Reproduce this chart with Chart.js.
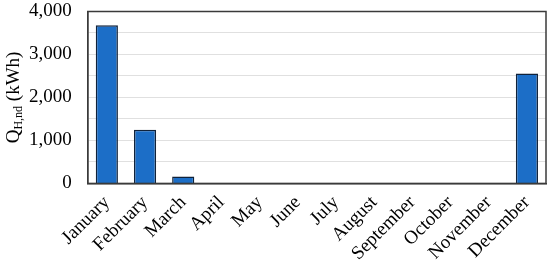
<!DOCTYPE html>
<html>
<head>
<meta charset="utf-8">
<script src="https://cdn.jsdelivr.net/npm/chart.js@4/dist/chart.umd.min.js"></script>
<style>
  html, body { margin: 0; padding: 0; background: #fff; }
  #wrap { width: 550px; height: 267px; }
</style>
</head>
<body>
<div id="wrap"><canvas id="chart"></canvas></div>
<script>
let months = ['January', 'February', 'March', 'April', 'May', 'June', 'July',
    'August', 'September', 'October', 'November', 'December'];
let heatNeed = [3680, 1250, 160, 0, 0, 0, 0, 0, 0, 0, 0, 2560];

let serif = '"Liberation Serif", "Times New Roman", serif';

// y title with subscript, drawn by hand since chart.js titles are plain text
let yTitle = {
    id: 'yTitle',
    afterDraw(chart) {
        let ctx = chart.ctx;
        let area = chart.chartArea;
        let cy = (area.top + area.bottom) / 2;
        ctx.save();
        ctx.translate(14, cy);
        ctx.rotate(-Math.PI / 2);
        ctx.fillStyle = '#000';
        ctx.textBaseline = 'middle';
        let big = '19px ' + serif;
        let small = '12px ' + serif;
        ctx.font = big;
        let wQ = ctx.measureText('Q').width;
        ctx.font = small;
        let wSub = ctx.measureText('H,nd').width;
        ctx.font = big;
        let wRest = ctx.measureText(' (kWh)').width;
        let x = -(wQ + wSub + wRest) / 2;
        ctx.fillText('Q', x, 0);
        ctx.font = small;
        ctx.fillText('H,nd', x + wQ, 5);
        ctx.font = big;
        ctx.fillText(' (kWh)', x + wQ + wSub, 0);
        ctx.restore();
    }
};

// box around plot area
let frame = {
    id: 'frame',
    afterDatasetsDraw(chart) {
        let ctx = chart.ctx;
        let a = chart.chartArea;
        ctx.save();
        ctx.strokeStyle = '#3a3a3a';
        ctx.lineWidth = 1.5;
        ctx.strokeRect(a.left, a.top, a.right - a.left, a.bottom - a.top);
        ctx.restore();
    }
};

new Chart(document.getElementById('chart').getContext('2d'), {
    type: 'bar',
    data: {
        labels: months,
        datasets: [{
            data: heatNeed,
            backgroundColor: '#1c6ec7',
            borderColor: '#10223a',
            borderWidth: 1.5,
            categoryPercentage: 1,
            barPercentage: 0.58
        }]
    },
    options: {
        responsive: true,
        maintainAspectRatio: false,
        animation: false,
        layout: { padding: { left: 27, right: 4, top: 0, bottom: 2 } },
        plugins: {
            legend: { display: false },
            tooltip: { enabled: false }
        },
        scales: {
            x: {
                grid: { display: false },
                border: { color: '#3a3a3a', width: 1.5 },
                ticks: {
                    color: '#000',
                    font: { family: serif, size: 19 },
                    minRotation: 45,
                    maxRotation: 45,
                    autoSkip: false,
                    padding: 0
                }
            },
            y: {
                min: 0,
                max: 4000,
                grid: { color: '#e0e0e0', lineWidth: 1, tickLength: 14, tickColor: 'rgba(0,0,0,0)' },
                border: { color: '#3a3a3a', width: 1.5 },
                ticks: {
                    stepSize: 500,
                    autoSkip: false,
                    color: '#000',
                    padding: 2,
                    font: { family: serif, size: 19, lineHeight: 1 },
                    callback: (v) => v % 1000 === 0 ? v.toLocaleString('en-US') : ''
                }
            }
        }
    },
    plugins: [yTitle, frame]
});
</script>
</body>
</html>
